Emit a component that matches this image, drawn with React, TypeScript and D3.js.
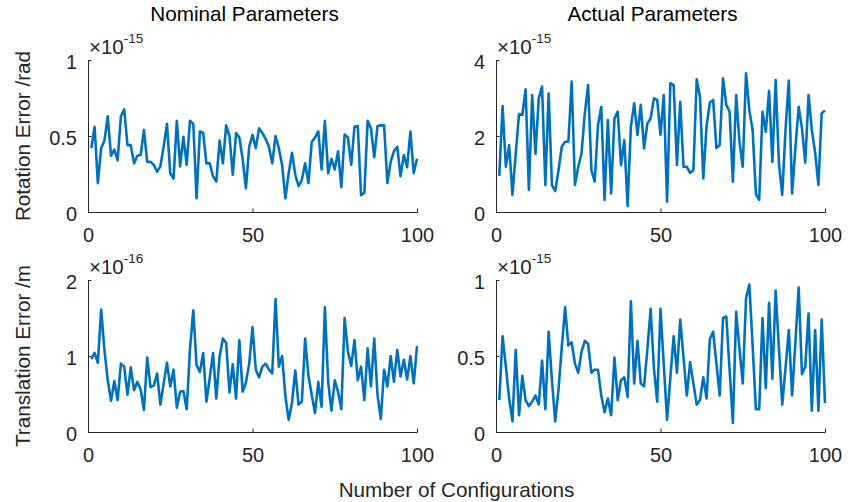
import React, { useEffect, useRef } from 'react';
import * as d3 from 'd3';

// configuration index on the x axis
const configIndex = d3.range(1, 101);

// rotation error, nominal parameters (x1e-15 rad)
const nominalRotation = [
  0.42, 0.56, 0.19, 0.42, 0.47, 0.63, 0.37, 0.41, 0.34, 0.63,
  0.675, 0.44, 0.44, 0.32, 0.37, 0.375, 0.54, 0.33, 0.33, 0.31,
  0.265, 0.30, 0.43, 0.58, 0.256, 0.22, 0.60, 0.30, 0.495, 0.31,
  0.60, 0.58, 0.09, 0.53, 0.52, 0.32, 0.32, 0.235, 0.20, 0.47,
  0.32, 0.57, 0.50, 0.245, 0.52, 0.49, 0.35, 0.156, 0.43, 0.507,
  0.42, 0.55, 0.52, 0.48, 0.43, 0.32, 0.50, 0.42, 0.31, 0.09,
  0.256, 0.39, 0.245, 0.17, 0.21, 0.32, 0.19, 0.46, 0.49, 0.53,
  0.28, 0.60, 0.256, 0.35, 0.28, 0.40, 0.163, 0.51, 0.49, 0.31,
  0.56, 0.565, 0.11, 0.127, 0.60, 0.55, 0.36, 0.565, 0.57, 0.57,
  0.19, 0.33, 0.40, 0.43, 0.235, 0.375, 0.295, 0.53, 0.256, 0.35,
];

// rotation error, actual parameters (x1e-15 rad)
const actualRotation = [
  0.95, 2.79, 1.19, 1.76, 0.45, 1.54, 2.58, 2.55, 3.23, 0.58,
  3.08, 1.53, 2.99, 3.3, 0.71, 3.12, 0.71, 0.55, 1.1, 1.72,
  1.85, 1.85, 3.43, 0.71, 1.19, 1.54, 2.6, 3.34, 1.1, 0.8,
  2.29, 2.77, 0.32, 2.42, 0.49, 2.46, 2.64, 1.23, 1.89, 0.16,
  2.25, 2.86, 2.03, 2.82, 1.67, 2.33, 2.46, 2.99, 2.95, 2.03,
  3.08, 0.27, 3.39, 3.34, 1.24, 2.9, 1.19, 1.19, 1.03, 1.1,
  3.49, 3.03, 0.88, 2.25, 2.88, 2.95, 1.68, 1.76, 3.52, 2.82,
  2.64, 0.8, 3.08, 1.85, 1.19, 3.65, 2.68, 2.16, 0.47, 0.32,
  2.64, 2.11, 3.19, 1.32, 3.47, 1.28, 0.45, 2.16, 3.46, 0.49,
  1.68, 2.77, 2.2, 1.3, 3.08, 2.16, 1.56, 0.71, 2.6, 2.67,
];

// translation error, nominal parameters (x1e-16 m)
const nominalTranslation = [
  0.96, 1.04, 0.91, 1.61, 1.08, 0.68, 0.41, 0.67, 0.42, 0.9,
  0.86, 0.49, 0.85, 0.55, 0.66, 0.56, 0.29, 0.98, 0.59, 0.61,
  0.77, 0.36, 0.64, 0.91, 0.6, 0.82, 0.32, 0.53, 0.54, 0.3,
  1.09, 1.6, 0.88, 0.79, 1.04, 0.4, 0.71, 1.04, 0.44, 0.99,
  1.23, 1.17, 0.52, 0.89, 0.44, 1.21, 0.53, 0.65, 0.9, 1.38,
  0.82, 0.72, 0.86, 0.9, 0.82, 0.77, 1.75, 0.86, 1.0, 0.47,
  0.16, 0.38, 0.81, 0.36, 0.4, 1.23, 0.74, 0.49, 0.25, 0.66,
  0.33, 1.64, 0.66, 0.28, 0.68, 0.53, 0.3, 1.5, 1.06, 0.87,
  1.21, 0.68, 0.86, 0.42, 1.1, 0.6, 1.23, 0.49, 0.17, 0.82,
  0.6, 1.0, 0.66, 1.08, 0.73, 0.95, 0.69, 1.0, 0.64, 1.13,
];

// translation error, actual parameters (x1e-15 m)
const actualTranslation = [
  0.21, 0.63, 0.43, 0.22, 0.07, 0.54, 0.11, 0.37, 0.21, 0.17,
  0.2, 0.24, 0.18, 0.47, 0.15, 0.66, 0.34, 0.07, 0.28, 0.56,
  0.82, 0.57, 0.59, 0.45, 0.39, 0.53, 0.6, 0.58, 0.39, 0.41,
  0.41, 0.24, 0.13, 0.22, 0.11, 0.49, 0.21, 0.34, 0.36, 0.23,
  0.86, 0.32, 0.6, 0.32, 0.3, 0.54, 0.81, 0.42, 0.2, 0.81,
  0.44, 0.08, 0.36, 0.63, 0.39, 0.74, 0.49, 0.24, 0.46, 0.32,
  0.18, 0.21, 0.36, 0.22, 0.61, 0.66, 0.45, 0.24, 0.75, 0.76,
  0.41, 0.06, 0.79, 0.55, 0.32, 0.88, 0.97, 0.57, 0.15, 0.15,
  0.75, 0.29, 0.85, 0.35, 0.93, 0.55, 0.18, 0.42, 0.67, 0.24,
  0.59, 0.95, 0.38, 0.43, 0.78, 0.14, 0.67, 0.14, 0.74, 0.19,
];

const xTicks = [0, 50, 100];
const rotNominalTicks = [0, 0.5, 1];
const rotActualTicks = [0, 2, 4];
const transNominalTicks = [0, 1, 2];
const transActualTicks = [0, 0.5, 1];

const columnTitles = ['Nominal Parameters', 'Actual Parameters'];
const rowLabels = ['Rotation Error /rad', 'Translation Error /m'];
const xLabel = 'Number of Configurations';

const FONT = '"Liberation Sans", Arial, Helvetica, sans-serif';
const LINE = '#0072BD';
const AXIS = '#262626';

const App = () => {
  const ref = useRef<SVGSVGElement>(null);

  useEffect(() => {
    const svg = d3.select(ref.current);
    svg.selectAll('*').remove();

    const colX = [88, 496];
    const rowY = [60, 280];
    const w = 329;
    const h = 152;

    const panels = [
      { row: 0, col: 0, data: nominalRotation, ticks: rotNominalTicks, exp: '-15' },
      { row: 0, col: 1, data: actualRotation, ticks: rotActualTicks, exp: '-15' },
      { row: 1, col: 0, data: nominalTranslation, ticks: transNominalTicks, exp: '-16' },
      { row: 1, col: 1, data: actualTranslation, ticks: transActualTicks, exp: '-15' },
    ];

    panels.forEach((p) => {
      const g = svg.append('g')
        .attr('transform', `translate(${colX[p.col]},${rowY[p.row]})`);

      const x = d3.scaleLinear().domain([0, 100]).range([0, w]);
      const y = d3.scaleLinear()
        .domain([p.ticks[0], p.ticks[p.ticks.length - 1]])
        .range([h, 0]);

      const yAxis = g.append('g')
        .call(d3.axisLeft(y).tickValues(p.ticks).tickFormat(d3.format('~g'))
          .tickSizeInner(-3.5).tickSizeOuter(0).tickPadding(11));
      const xAxis = g.append('g')
        .attr('transform', `translate(0,${h})`)
        .call(d3.axisBottom(x).tickValues(xTicks)
          .tickSizeInner(-3.5).tickSizeOuter(0).tickPadding(16));

      [yAxis, xAxis].forEach((a) => {
        a.select('.domain').attr('stroke', AXIS).attr('stroke-width', 1);
        a.selectAll('.tick line').attr('stroke', AXIS);
        a.selectAll('.tick text')
          .attr('fill', AXIS)
          .style('font-family', FONT)
          .style('font-size', '20px');
      });
      yAxis.selectAll('.tick text').attr('dy', '0.4em');

      const line = d3.line<number>()
        .x((_, i) => x(configIndex[i]))
        .y((d) => y(d));

      g.append('path')
        .datum(p.data)
        .attr('d', line)
        .attr('fill', 'none')
        .attr('stroke', LINE)
        .attr('stroke-width', 2.6)
        .attr('stroke-linejoin', 'round');

      // axis exponent
      const e = g.append('text')
        .attr('x', 1)
        .attr('y', -6)
        .attr('fill', AXIS)
        .style('font-family', FONT)
        .style('font-size', '20.5px');
      e.append('tspan').text('\u00d710');
      e.append('tspan')
        .attr('dy', -11)
        .style('font-size', '13.5px')
        .text(p.exp);

      if (p.row === 0) {
        svg.append('text')
          .attr('x', colX[p.col] + w / 2 - 8)
          .attr('y', 21)
          .attr('text-anchor', 'middle')
          .attr('fill', '#000')
          .style('font-family', FONT)
          .style('font-size', '20.7px')
          .text(columnTitles[p.col]);
      }
      if (p.col === 0) {
        svg.append('text')
          .attr('transform', `translate(30,${rowY[p.row] + h / 2}) rotate(-90)`)
          .attr('text-anchor', 'middle')
          .attr('fill', AXIS)
          .style('font-family', FONT)
          .style('font-size', '20.7px')
          .text(rowLabels[p.row]);
      }
    });

    svg.append('text')
      .attr('x', (colX[0] + colX[1] + w) / 2)
      .attr('y', 497)
      .attr('text-anchor', 'middle')
      .attr('fill', AXIS)
      .style('font-family', FONT)
      .style('font-size', '20.7px')
      .text(xLabel);
  }, []);

  return (
    <svg
      ref={ref}
      width={857}
      height={502}
      style={{ position: 'absolute', left: 0, top: 0, background: '#fff' }}
    />
  );
};

export default App;
